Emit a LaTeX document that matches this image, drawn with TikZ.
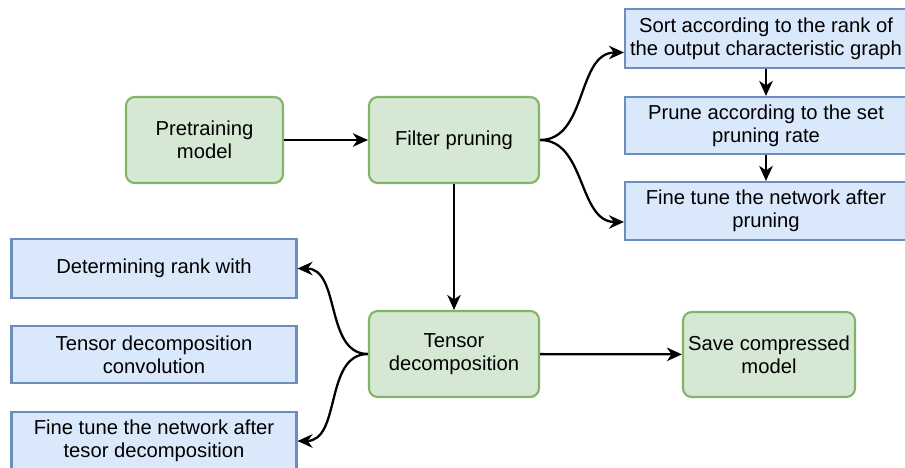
\documentclass[tikz,border=0pt]{standalone}
\usepackage{fontspec}
\setmainfont{Liberation Sans}
\usetikzlibrary{arrows.meta, calc, positioning}

\definecolor{stepgreen}{HTML}{D5E8D4}
\definecolor{stepgreenline}{HTML}{82B366}
\definecolor{subblue}{HTML}{DAE8FC}
\definecolor{subblueline}{HTML}{6C8EBF}

\begin{document}
\begin{tikzpicture}[
    font=\fontsize{11.5}{13.3}\selectfont,
    stage/.style={
        draw=stepgreenline, line width=1.2pt, rounded corners=5pt,
        fill=stepgreen, minimum width=3.4cm, minimum height=1.72cm,
        inner xsep=1pt, align=center, text=black
    },
    substep/.style={
        draw=subblueline, line width=1.2pt, fill=subblue,
        minimum width=5.7cm, minimum height=1.16cm,
        inner xsep=1pt, align=center, text=black
    },
    flow/.style={
        -{Stealth[length=3mm, width=2.7mm, inset=0.9mm]}, line width=1.3pt, black
    },
    branch/.style={
        -{Stealth[length=3mm, width=2.7mm, inset=1mm]}, line width=1.3pt, black
    }
]
\useasboundingbox (0,0) rectangle (18.1,-9.36);

% main stages
\node[stage, minimum width=3.14cm] (pretrain) at (4.09,-2.80)
    {Pretraining\\model};
\node[stage] (filter) at (9.08,-2.80) {Filter pruning};
\node[stage] (tensor) at (9.08,-7.08) {Tensor\\decomposition};
\node[stage, minimum width=3.44cm, minimum height=1.70cm] (save) at (15.38,-7.09)
    {Save compressed\\model};

% filter pruning steps
\node[substep, minimum width=5.64cm, minimum height=1.18cm] (sort) at (15.32,-0.77)
    {Sort according to the rank of\\the output characteristic graph};
\node[substep, minimum width=5.64cm, minimum height=1.14cm] (prune) at (15.32,-2.51)
    {Prune according to the set\\pruning rate};
\node[substep, minimum width=5.64cm] (tunep) at (15.32,-4.22)
    {Fine tune the network after\\pruning};

% tensor decomposition steps
\node[substep, minimum height=1.18cm] (rankw) at (3.08,-5.37)
    {Determining rank with};
\node[substep, minimum height=1.14cm] (tconv) at (3.08,-7.09)
    {Tensor decomposition\\convolution};
\node[substep] (tunet) at (3.08,-8.82)
    {Fine tune the network after\\tesor decomposition};

\draw[flow] (pretrain) -- (filter);
\draw[flow] (filter) -- (tensor);
\draw[flow] (tensor) -- (save);

\draw[flow] (sort) -- (prune);
\draw[flow] (prune) -- (tunep);

\draw[branch] (filter.east) to[out=0, in=180] ([yshift=-0.28cm]sort.west);
\draw[branch] (filter.east) to[out=0, in=180] ([yshift=-0.22cm]tunep.west);

\draw[branch] (tensor.west) to[out=180, in=0] (rankw.east);
\draw[branch] (tensor.west) to[out=180, in=0] (tunet.east);
\end{tikzpicture}
\end{document}
